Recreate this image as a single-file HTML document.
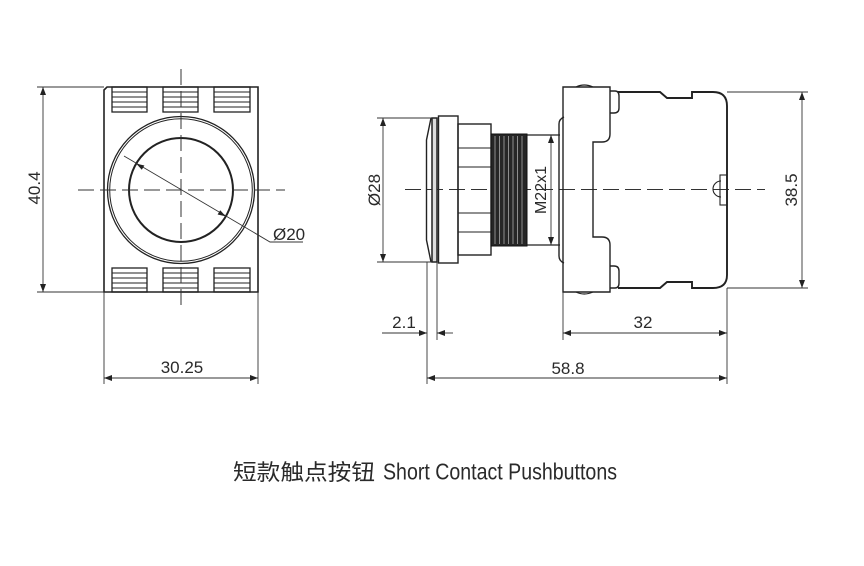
<!DOCTYPE html>
<html><head><meta charset="utf-8"><style>
html,body{margin:0;padding:0;background:#fff;}
svg{display:block;}
text{font-family:"Liberation Sans",sans-serif;fill:#2a2a2a;}
</style></head><body>
<svg width="864" height="566" viewBox="0 0 864 566" xmlns="http://www.w3.org/2000/svg">
<defs>
<marker id="a" viewBox="0 0 8 6" refX="8" refY="3" markerWidth="8" markerHeight="6" markerUnits="userSpaceOnUse" orient="auto-start-reverse"><path d="M0,0 L8,3 L0,6 z" fill="#222"/></marker>
</defs>

<!-- ================= LEFT VIEW ================= -->
<g fill="none" stroke="#222">
  <path d="M104,292 L104,90 L107,87 L258,87 L258,292 Z" stroke-width="1.6"/>
  <g stroke-width="1.3">
    <rect x="112" y="87" width="35" height="25"/>
    <rect x="163" y="87" width="35" height="25"/>
    <rect x="214" y="87" width="36" height="25"/>
    <rect x="112" y="268" width="35" height="24"/>
    <rect x="163" y="268" width="35" height="24"/>
    <rect x="214" y="268" width="36" height="24"/>
  </g>
  <g stroke-width="1">
    <path d="M112,92H147M112,97H147M112,102H147M112,107H147"/>
    <path d="M163,92H198M163,97H198M163,102H198M163,107H198"/>
    <path d="M214,92H250M214,97H250M214,102H250M214,107H250"/>
    <path d="M112,273H147M112,278H147M112,283H147M112,288H147"/>
    <path d="M163,273H198M163,278H198M163,283H198M163,288H198"/>
    <path d="M214,273H250M214,278H250M214,283H250M214,288H250"/>
  </g>
  <circle cx="181" cy="190" r="73.5" stroke-width="1.3"/>
  <circle cx="181" cy="190" r="71.3" stroke-width="1"/>
  <circle cx="181" cy="190" r="52" stroke-width="2"/>
</g>
<g stroke="#333" stroke-width="1" fill="none">
  <line x1="181" y1="69" x2="181" y2="310" stroke-dasharray="16,6"/>
  <line x1="78" y1="190" x2="285" y2="190" stroke-dasharray="16,6"/>
</g>
<g stroke="#333" stroke-width="0.9" fill="none">
  <polyline points="124,156 270,242 303,242"/>
</g>
<polygon points="136.2,163.6 144.4,165.5 141.8,169.8" fill="#222"/>
<polygon points="225.8,216.4 220.2,210.2 217.6,214.5" fill="#222"/>
<text x="273" y="240" font-size="17">Ø20</text>

<g stroke="#333" stroke-width="0.9" fill="none">
  <line x1="37" y1="87" x2="104" y2="87"/>
  <line x1="37" y1="292" x2="104" y2="292"/>
  <line x1="43" y1="87" x2="43" y2="292" marker-start="url(#a)" marker-end="url(#a)"/>
</g>
<text x="0" y="0" font-size="17" text-anchor="middle" transform="translate(40,188) rotate(-90)">40.4</text>

<g stroke="#333" stroke-width="0.9" fill="none">
  <line x1="104" y1="292" x2="104" y2="384"/>
  <line x1="258" y1="292" x2="258" y2="384"/>
  <line x1="104" y1="378" x2="258" y2="378" marker-start="url(#a)" marker-end="url(#a)"/>
</g>
<text x="182" y="373" font-size="17" text-anchor="middle">30.25</text>

<!-- ================= RIGHT VIEW ================= -->
<line x1="405" y1="189.5" x2="765" y2="189.5" stroke="#333" stroke-width="1" stroke-dasharray="16,6"/>

<g fill="none" stroke="#222" stroke-width="1.4">
  <path d="M431,118 L426.5,140 L426.5,240 L431,262"/>
  <rect x="432" y="118" width="5" height="144" fill="#ddd" stroke-width="1.5"/>
  <rect x="438.5" y="116" width="19.5" height="147"/>
  <rect x="458" y="124" width="33" height="131"/>
  <path d="M458,148H491M458,167H491M458,213H491M458,232H491" stroke-width="1.1"/>
  <path d="M527,135H560M527,245H560" stroke-width="1.2"/>
  <path d="M564,117 Q559,119 559,124 L559,256 Q559,261 564,263"/>
  <path d="M563,87 L610,87 L610,134 Q610,142 602,142 L593,142 L593,237 L602,237 Q610,237 610,245 L610,292 L563,292 Z"/>
  <path d="M576,87 Q584,83 593,87 M576,292 Q584,296 593,292" stroke-width="1.2"/>
  <path d="M610,91 L615,91 Q619,91 619,96 L619,108 Q619,113 614,113 L610,113"/>
  <path d="M610,266 L614,266 Q619,266 619,271 L619,283 Q619,288 615,288 L610,288"/>
  <path d="M618,92 L660,92 L667,98 L692,98 L692,92 L713,92 Q727,92 727,106 L727,275 Q727,288 713,288 L692,288 L692,282 L667,282 L660,288 L618,288" stroke-width="1.9"/>
  <rect x="720" y="175" width="7" height="30" stroke-width="1.1"/>
  <path d="M721,181 A8,8 0 0 0 721,197" stroke-width="1.1"/>
</g>
<rect x="491" y="134" width="36" height="112" fill="#262626" stroke="#111" stroke-width="1"/>
<g stroke="#bbb" stroke-width="0.7">
  <path d="M495,136V244M499.5,136V244M504,136V244M508.5,136V244M513,136V244M517.5,136V244M522,136V244"/>
</g>

<g stroke="#333" stroke-width="0.9" fill="none">
  <line x1="377" y1="118" x2="432" y2="118"/>
  <line x1="377" y1="262" x2="432" y2="262"/>
  <line x1="383" y1="118" x2="383" y2="262" marker-start="url(#a)" marker-end="url(#a)"/>
</g>
<text x="0" y="0" font-size="17" text-anchor="middle" transform="translate(380,190) rotate(-90)">Ø28</text>

<line x1="551" y1="135" x2="551" y2="245" stroke="#333" stroke-width="0.9" marker-start="url(#a)" marker-end="url(#a)"/>
<text x="0" y="0" font-size="16" text-anchor="middle" transform="translate(546,190) rotate(-90)">M22x1</text>

<g stroke="#333" stroke-width="0.9" fill="none">
  <line x1="727" y1="92" x2="808" y2="92"/>
  <line x1="727" y1="288" x2="808" y2="288"/>
  <line x1="802" y1="92" x2="802" y2="288" marker-start="url(#a)" marker-end="url(#a)"/>
</g>
<text x="0" y="0" font-size="17" text-anchor="middle" transform="translate(797,190) rotate(-90)">38.5</text>

<g stroke="#333" stroke-width="0.9" fill="none">
  <line x1="427" y1="262" x2="427" y2="384"/>
  <line x1="437" y1="262" x2="437" y2="340"/>
  <line x1="563" y1="292" x2="563" y2="340"/>
  <line x1="727" y1="288" x2="727" y2="384"/>
  <line x1="382" y1="333" x2="427" y2="333" marker-end="url(#a)"/>
  <line x1="453" y1="333" x2="437" y2="333" marker-end="url(#a)"/>
  <line x1="563" y1="333" x2="727" y2="333" marker-start="url(#a)" marker-end="url(#a)"/>
  <line x1="427" y1="378" x2="727" y2="378" marker-start="url(#a)" marker-end="url(#a)"/>
</g>
<text x="404" y="328" font-size="17" text-anchor="middle">2.1</text>
<text x="643" y="328" font-size="17" text-anchor="middle">32</text>
<text x="568" y="374" font-size="17" text-anchor="middle">58.8</text>

<text x="233" y="480" font-size="22" textLength="142" lengthAdjust="spacingAndGlyphs" style='font-family:"Liberation Sans","Noto Sans CJK SC",sans-serif' fill="#222">短款触点按钮</text>
<text x="383" y="479.5" font-size="23" textLength="234" lengthAdjust="spacingAndGlyphs" fill="#222">Short Contact Pushbuttons</text>
</svg>
</body></html>
